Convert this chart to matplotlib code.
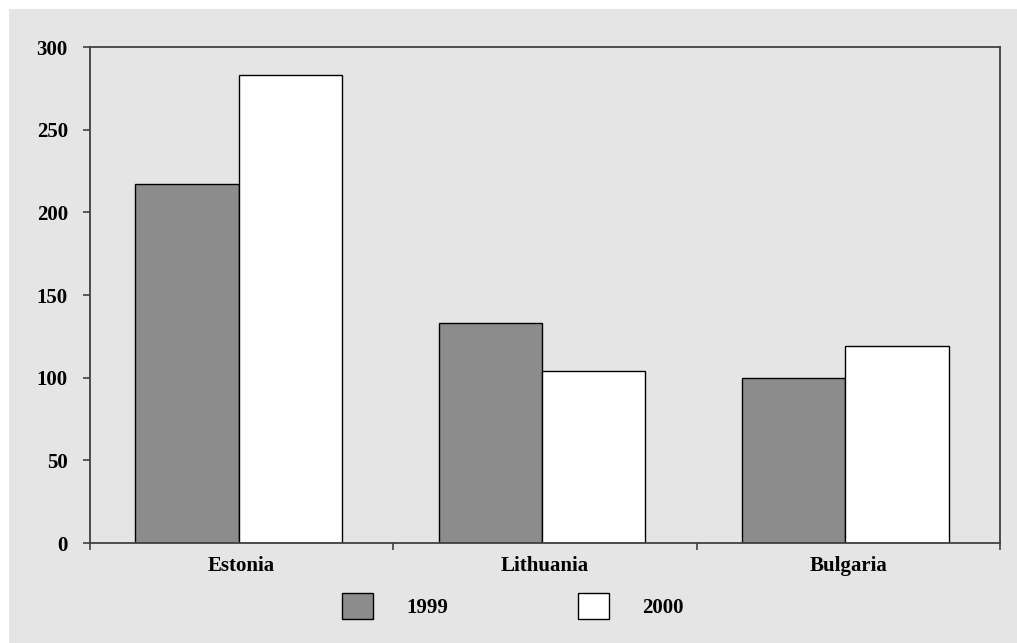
import numpy as np
import matplotlib.pyplot as plt
from matplotlib.patches import Rectangle

countries = ['Estonia', 'Lithuania', 'Bulgaria']
years = ['1999', '2000']
values_1999 = [217, 133, 100]
values_2000 = [283, 104, 119]

bg = '#e5e5e5'
bar_colors = ['#8c8c8c', 'white']

plt.rcParams['font.family'] = ['Liberation Serif', 'DejaVu Serif']
plt.rcParams['font.weight'] = 'bold'

fig = plt.figure(figsize=(10.17, 6.43), dpi=100)
fig.patch.set_facecolor('white')
fig.add_artist(Rectangle((9 / 1017, 0), 1, 634 / 643, transform=fig.transFigure,
                         facecolor=bg, edgecolor='none', zorder=0))

ax = fig.add_axes([0.0885, 0.1555, 0.8948, 0.7714])
ax.set_facecolor(bg)

x = np.arange(len(countries)) - 0.01
width = 0.341
for i, (vals, label) in enumerate(zip([values_1999, values_2000], years)):
    ax.bar(x + (i - 0.5) * width, vals, width, color=bar_colors[i],
           edgecolor='black', linewidth=1.0, label=label, zorder=2)

ax.set_xlim(-0.5, 2.5)
ax.set_ylim(0, 300)
ax.set_yticks(np.arange(0, 301, 50))

# category boundaries carry the tick marks, names sit between them
ax.set_xticks([-0.5, 0.5, 1.5, 2.5])
ax.set_xticklabels([])
ax.set_xticks(np.arange(len(countries)), minor=True)
ax.set_xticklabels(countries, minor=True)
ax.tick_params(axis='x', which='minor', length=0, pad=9, labelsize=15)
ax.tick_params(axis='x', which='major', length=5, width=1.2, color='#404040')
ax.tick_params(axis='y', length=5, width=1.2, color='#404040', pad=11, labelsize=15)

for s in ax.spines.values():
    s.set_color('#404040')
    s.set_linewidth(1.3)

fig.legend(loc='center', bbox_to_anchor=(0.5044, 0.0575), ncol=2, frameon=False,
           fontsize=15, handlelength=1.49, handleheight=1.49, handletextpad=1.6,
           columnspacing=6.2)

fig.savefig('out.png', dpi=100, facecolor=fig.get_facecolor())
